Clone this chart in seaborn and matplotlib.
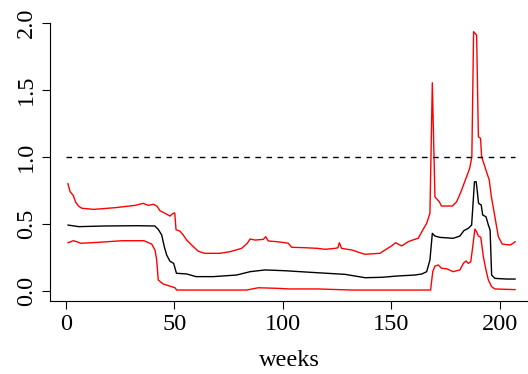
import matplotlib
matplotlib.use("Agg")
import matplotlib.pyplot as plt
import seaborn as sns
import pandas as pd

# Estimated level with its upper and lower bands, by week
upper_weeks = [1, 2, 3.5, 4.6, 6, 7.5, 13, 23, 32, 35.7, 38, 40.3, 42, 43.4, 45.7, 48,
               49.5, 50.2, 50.8, 52.6, 54.1, 55.7, 58, 61, 64, 71, 75.6, 81, 83.6, 84.9,
               87.2, 91, 92.1, 93.3, 97.1, 101, 102.5, 104, 110, 116, 119.4, 124, 125.3,
               126, 127, 131.7, 136.3, 137.8, 144.7, 147, 150, 151.9, 154.7, 157.7, 160.8,
               162.3, 164.4, 166.2, 167.7, 168.8, 170, 172, 173, 178, 180, 182, 184, 186,
               187, 187.8, 188.5, 189.2, 190, 191, 191.5, 193.5, 195, 196, 197.6, 199.2,
               201, 204.6, 206, 207]
upper_vals = [0.80, 0.74, 0.71, 0.66, 0.63, 0.615, 0.607, 0.62, 0.637, 0.652, 0.637, 0.645,
              0.632, 0.597, 0.578, 0.557, 0.578, 0.58, 0.455, 0.445, 0.416, 0.378, 0.341,
              0.295, 0.279, 0.279, 0.291, 0.316, 0.354, 0.386, 0.378, 0.383, 0.403, 0.371,
              0.366, 0.358, 0.354, 0.324, 0.321, 0.316, 0.309, 0.316, 0.32, 0.358, 0.316,
              0.304, 0.279, 0.272, 0.279, 0.304, 0.334, 0.358, 0.334, 0.366, 0.384, 0.391,
              0.453, 0.503, 0.578, 1.552, 0.70, 0.664, 0.632, 0.632, 0.664, 0.739, 0.826,
              0.913, 1.0, 1.933, 1.92, 1.908, 1.149, 1.137, 1.0, 0.90, 0.826, 0.70, 0.552,
              0.403, 0.348, 0.341, 0.354, 0.366]

mid_weeks = [1, 6, 18, 33, 41, 42.6, 44.2, 45.4, 46.5, 48, 49.7, 51, 55.7, 60, 68, 78.7,
             84.9, 91.8, 101, 116, 128.6, 137.8, 145.5, 153, 160.8, 164, 166.2, 167.7,
             168.8, 170, 172.3, 178.4, 181.5, 183.3, 185.4, 186.9, 188.2, 189, 190.1,
             191.3, 192, 193.5, 194.6, 195.4, 196.1, 197.6, 203, 207]
mid_vals = [0.49, 0.478, 0.483, 0.485, 0.483, 0.458, 0.416, 0.328, 0.266, 0.22, 0.204,
            0.13, 0.125, 0.105, 0.105, 0.117, 0.142, 0.155, 0.149, 0.134, 0.122, 0.097,
            0.10, 0.11, 0.117, 0.125, 0.142, 0.229, 0.428, 0.408, 0.398, 0.391, 0.408,
            0.448, 0.466, 0.49, 0.813, 0.813, 0.652, 0.64, 0.565, 0.552, 0.49, 0.453,
            0.117, 0.092, 0.087, 0.087]

lower_weeks = [1, 3.5, 5, 7, 15, 26, 36, 39.6, 41.1, 41.9, 42.6, 44.9, 48.8, 50.3, 51.1,
               83.3, 88.7, 97, 103, 116, 131.7, 168, 169, 170, 171.5, 173.1, 175.4, 178.4,
               181.5, 183.1, 184.3, 185.4, 186.5, 187.4, 188.4, 189.2, 190, 191.1, 192.3,
               193.5, 194.6, 196.1, 197.6, 207]
lower_vals = [0.358, 0.373, 0.366, 0.354, 0.361, 0.373, 0.373, 0.348, 0.304, 0.229, 0.08,
              0.05, 0.03, 0.022, 0.005, 0.005, 0.022, 0.018, 0.013, 0.013, 0.005, 0.005,
              0.142, 0.184, 0.192, 0.167, 0.164, 0.142, 0.155, 0.204, 0.222, 0.204, 0.216,
              0.328, 0.46, 0.44, 0.408, 0.398, 0.254, 0.155, 0.08, 0.03, 0.013, 0.008]

ref_weeks = [0, 207]
ref_level = [1.0, 1.0]

x_ticks = [0, 50, 100, 150, 200]
y_ticks = [0.0, 0.5, 1.0, 1.5, 2.0]
y_tick_labels = ["0.0", "0.5", "1.0", "1.5", "2.0"]

sns.set_style("ticks")
plt.rcParams["font.family"] = ["Liberation Serif", "DejaVu Serif"]
plt.rcParams["text.color"] = "black"
plt.rcParams["axes.labelcolor"] = "black"

fig = plt.figure(figsize=(5.28, 3.74), dpi=100)
ax = fig.add_axes([50 / 528, 73.25 / 374, 478 / 528, 288.75 / 374])

upper_df = pd.DataFrame({"week": upper_weeks, "value": upper_vals})
mid_df = pd.DataFrame({"week": mid_weeks, "value": mid_vals})
lower_df = pd.DataFrame({"week": lower_weeks, "value": lower_vals})

sns.lineplot(data=upper_df, x="week", y="value", ax=ax, color="#ff0000", lw=1.0, estimator=None)
sns.lineplot(data=lower_df, x="week", y="value", ax=ax, color="#ff0000", lw=1.0, estimator=None)
sns.lineplot(data=mid_df, x="week", y="value", ax=ax, color="black", lw=1.0, estimator=None)
ax.plot(ref_weeks, ref_level, color="black", lw=1.0, linestyle=(0, (4, 4)))

ax.set_xlim(-7.23, 212.85)
ax.set_ylim(-0.075, 2.08)

ax.set_xticks(x_ticks)
ax.set_xticklabels([str(t) for t in x_ticks])
ax.set_yticks(y_ticks)
ax.set_yticklabels(y_tick_labels, rotation=90, va="center")

ax.tick_params(axis="both", direction="out", length=5.5, width=0.8, color="black",
               labelsize=17.5, labelcolor="black", pad=4)
ax.set_xlabel("weeks", fontsize=17.5, labelpad=11, color="black")
ax.set_ylabel("")

for side in ("top", "right"):
    ax.spines[side].set_visible(False)
for side in ("left", "bottom"):
    ax.spines[side].set_color("black")
    ax.spines[side].set_linewidth(0.8)
ax.spines["left"].set_bounds(-0.075, 2.0)

fig.savefig("out.png", dpi=100)
